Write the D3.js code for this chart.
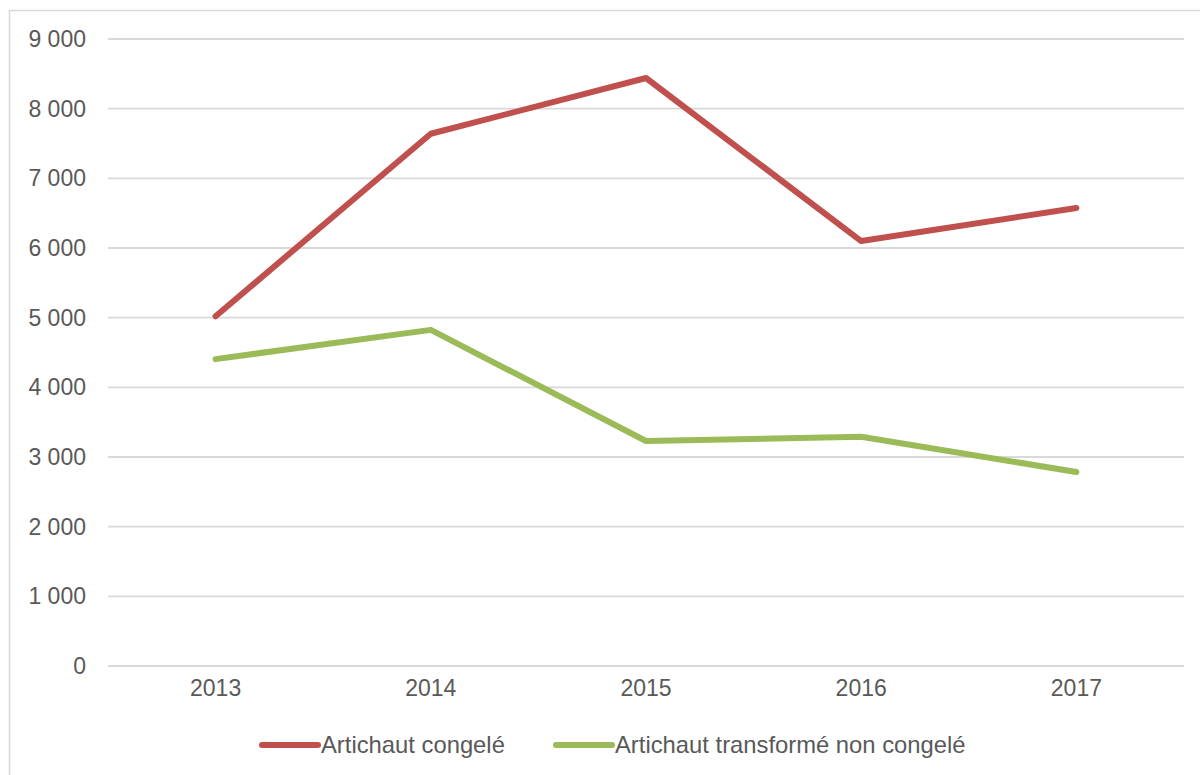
<!DOCTYPE html>
<html>
<head>
<meta charset="utf-8">
<script src="https://cdn.jsdelivr.net/npm/d3@7"></script>
<style>
    body { margin: 0; background: #fff; }
    svg { display: block; font-family: "Liberation Sans", Arial, sans-serif; }
</style>
</head>
<body>
<div id="chart"></div>
<script>
// chart data
var years = ["2013", "2014", "2015", "2016", "2017"];
var congele = [5020, 7640, 8440, 6100, 6575];
var transforme = [4405, 4825, 3230, 3290, 2785];
var seriesNames = ["Artichaut congelé", "Artichaut transformé non congelé"];
var yTicks = [0, 1000, 2000, 3000, 4000, 5000, 6000, 7000, 8000, 9000];

var svgWidth = 1200;
var svgHeight = 775;
var margin = { top: 39, right: 16, bottom: 109, left: 108 };
var chartWidth = svgWidth - margin.left - margin.right;
var chartHeight = svgHeight - margin.top - margin.bottom;

var svg = d3.select("#chart").append("svg")
    .attr("width", svgWidth)
    .attr("height", svgHeight);

// outer frame (only top and left visible)
svg.append("rect")
    .attr("x", 9.5)
    .attr("y", 10.5)
    .attr("width", 1300)
    .attr("height", 900)
    .attr("fill", "none")
    .attr("stroke", "#d9d9d9")
    .attr("stroke-width", 1.5);

var chartGroup = svg.append("g")
    .attr("transform", `translate(${margin.left}, ${margin.top})`);

var xScale = d3.scaleBand()
    .domain(years)
    .range([0, chartWidth]);

var yScale = d3.scaleLinear()
    .domain([0, 9000])
    .range([chartHeight, 0]);

var fmt = d => d3.format(",")(d).replace(/,/g, " ");

// gridlines
chartGroup.append("g")
    .selectAll("line")
    .data(yTicks)
    .enter()
    .append("line")
    .attr("x1", 0)
    .attr("x2", chartWidth)
    .attr("y1", d => yScale(d))
    .attr("y2", d => yScale(d))
    .attr("stroke", "#d9d9d9")
    .attr("stroke-width", 1.8);

// y axis labels
var yAxis = d3.axisLeft(yScale)
    .tickValues(yTicks)
    .tickFormat(fmt)
    .tickSize(0)
    .tickPadding(22);
chartGroup.append("g")
    .call(yAxis)
    .call(g => g.select(".domain").remove())
    .selectAll("text")
    .attr("font-size", 23)
    .attr("font-family", "Liberation Sans, Arial, sans-serif")
    .attr("fill", "#595959");

// x axis labels
var xAxis = d3.axisBottom(xScale).tickSize(0).tickPadding(14);
chartGroup.append("g")
    .attr("transform", `translate(0, ${chartHeight})`)
    .call(xAxis)
    .call(g => g.select(".domain").remove())
    .selectAll("text")
    .attr("font-size", 23)
    .attr("font-family", "Liberation Sans, Arial, sans-serif")
    .attr("fill", "#595959");

// lines
var colors = ["#c0504d", "#9bbb59"];
var allSeries = [congele, transforme];

var line = d3.line()
    .x((d, i) => xScale(years[i]) + xScale.bandwidth() / 2)
    .y(d => yScale(d));

chartGroup.append("g")
    .selectAll("path")
    .data(allSeries)
    .enter()
    .append("path")
    .attr("d", d => line(d))
    .attr("fill", "none")
    .attr("stroke", (d, i) => colors[i])
    .attr("stroke-width", 6)
    .attr("stroke-linecap", "round")
    .attr("stroke-linejoin", "round");

// legend
var legendX = [262, 556];
var legend = svg.append("g")
    .selectAll("g")
    .data(seriesNames)
    .enter()
    .append("g")
    .attr("transform", (d, i) => `translate(${legendX[i]}, 745)`);

legend.append("line")
    .attr("x1", 0)
    .attr("x2", 56)
    .attr("stroke", (d, i) => colors[i])
    .attr("stroke-width", 6)
    .attr("stroke-linecap", "round");

legend.append("text")
    .attr("x", 59)
    .attr("y", 8)
    .attr("font-size", 23.8)
    .attr("fill", "#595959")
    .text(d => d);
</script>
</body>
</html>
